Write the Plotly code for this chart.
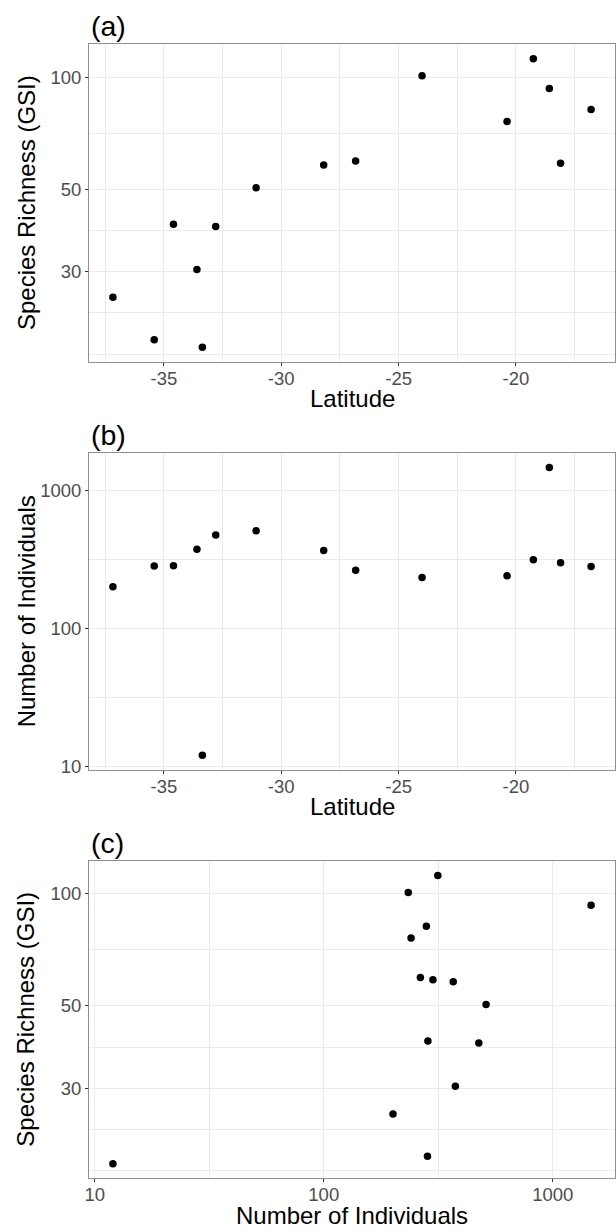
import math
import plotly.graph_objects as go

# ---- data ----
latitude = [-37.17, -35.41, -34.59, -33.59, -33.36, -32.79, -31.07, -28.19,
            -26.83, -24.00, -20.38, -19.26, -18.58, -18.10, -16.80]
richness = [25.6, 19.7, 40.2, 30.4, 18.8, 39.7, 50.4, 58.0,
            59.5, 100.8, 76.0, 111.9, 93.1, 58.7, 81.8]
individuals = [200.7, 283.8, 285.0, 375.7, 12.0, 475.6, 511.5, 367.7,
               264.3, 233.9, 240.6, 314.9, 1471.0, 299.8, 280.6]

lat_ticks = [-35, -30, -25, -20]
rich_ticks = [30, 50, 100]
ind_ticks = [10, 100, 1000]
panel_labels = ["(a)", "(b)", "(c)"]
x_titles = ["Latitude", "Latitude", "Number of Individuals"]
y_titles = ["Species Richness (GSI)", "Number of Individuals", "Species Richness (GSI)"]

FONT = "Liberation Sans, Arial, Helvetica, sans-serif"
W, H = 616, 1232


def expand(vals, log=False):
    v = [math.log10(x) for x in vals] if log else list(vals)
    lo, hi = min(v), max(v)
    d = (hi - lo) * 0.05
    return [lo - d, hi + d]


def minor_breaks(major, rng, log=False):
    b = [math.log10(x) for x in major] if log else list(major)
    bd = b[1] - b[0]
    if rng[0] < b[0]:
        b = [b[0] - bd] + b
    if rng[1] > b[-1]:
        b = b + [b[-1] + bd]
    out = []
    for a, c in zip(b[:-1], b[1:]):
        out += [a, (a + c) / 2]
    out.append(b[-1])
    out = [m for m in out if rng[0] <= m <= rng[1]]
    majors_t = [math.log10(x) for x in major] if log else list(major)
    out = [m for m in out if all(abs(m - t) > 1e-9 for t in majors_t)]
    return [10 ** m for m in out] if log else out


# panel pixel boxes (top, bottom)
boxes = [(44.7, 363.7), (455.7, 774.0), (866.0, 1185.0)]
L_M, R_M = 89, 1

fig = go.Figure()

panels = [
    (latitude, richness, False, True, lat_ticks, rich_ticks),
    (latitude, individuals, False, True, lat_ticks, ind_ticks),
    (individuals, richness, True, True, ind_ticks, rich_ticks),
]

annotations = []
for i, (xs, ys, xlog, ylog, xt, yt) in enumerate(panels):
    n = "" if i == 0 else str(i + 1)
    top, bot = boxes[i]
    y0, y1 = 1 - bot / H, 1 - top / H
    fig.add_trace(go.Scatter(
        x=xs, y=ys, mode="markers",
        marker=dict(color="black", size=7.5, line=dict(width=0)),
        xaxis="x" + n, yaxis="y" + n, showlegend=False, hoverinfo="x+y"))
    xr = expand(xs, xlog)
    yr = expand(ys, ylog)
    common = dict(
        showline=True, linecolor="#8F8F8F", linewidth=1, mirror=True,
        ticks="outside", ticklen=3, tickwidth=1, tickcolor="#333333",
        showgrid=True, gridcolor="#EBEBEB", gridwidth=1, zeroline=False,
        tickfont=dict(family=FONT, size=18.5, color="#4D4D4D"),
        tickmode="array",
    )
    fig.layout["xaxis" + n] = dict(
        common, domain=[0, 1], anchor="y" + n,
        type="log" if xlog else "linear", range=xr,
        tickvals=xt, ticktext=[str(t) for t in xt],
        ticklabelstandoff=-3,
        minor=dict(tickmode="array", tickvals=minor_breaks(xt, xr, xlog),
                   showgrid=True, gridcolor="#EBEBEB", gridwidth=0.6, ticks=""),
    )
    fig.layout["yaxis" + n] = dict(
        common, domain=[y0, y1], anchor="x" + n,
        type="log" if ylog else "linear", range=yr,
        tickvals=yt, ticktext=[str(t) for t in yt],
        minor=dict(tickmode="array", tickvals=minor_breaks(yt, yr, ylog),
                   showgrid=True, gridcolor="#EBEBEB", gridwidth=0.6, ticks=""),
    )
    # panel label
    annotations.append(dict(
        text=panel_labels[i], xref="paper", yref="paper", x=0, y=y1,
        xanchor="left", yanchor="middle", yshift=18, showarrow=False,
        font=dict(family=FONT, size=28.5, color="black")))
    # x title
    annotations.append(dict(
        text=x_titles[i], xref="paper", yref="paper", x=0.5, y=y0,
        xanchor="center", yanchor="middle", yshift=-37, showarrow=False,
        font=dict(family=FONT, size=24, color="black")))
    # y title
    annotations.append(dict(
        text=y_titles[i], xref="paper", yref="paper", x=0, y=(y0 + y1) / 2,
        xanchor="center", yanchor="middle", xshift=-63, textangle=-90,
        showarrow=False, font=dict(family=FONT, size=24, color="black")))

fig.update_layout(
    width=W, height=H,
    margin=dict(l=L_M, r=R_M, t=0, b=0),
    paper_bgcolor="white", plot_bgcolor="white",
    annotations=annotations,
    font=dict(family=FONT),
)

fig.write_html(
    "out.html",
    config={"displayModeBar": False},
    post_script="document.body.style.margin='0';document.body.style.overflow='hidden';",
)
